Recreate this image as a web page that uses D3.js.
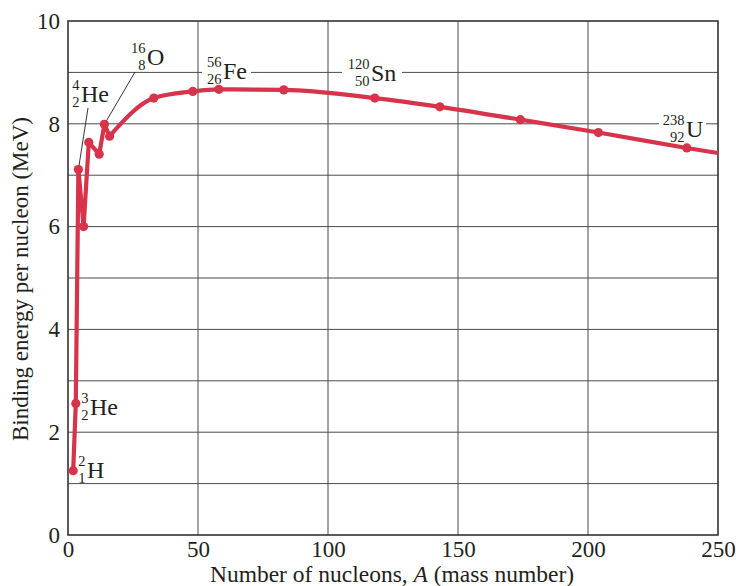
<!DOCTYPE html>
<html>
<head>
<meta charset="utf-8">
<script src="https://cdn.jsdelivr.net/npm/d3@7"></script>
<style>
  html, body { margin: 0; padding: 0; background: #fff; }
  svg { display: block; }
  text { font-family: "Liberation Serif", "Times New Roman", serif; fill: #231f20; }
</style>
</head>
<body>
<svg id="chart" width="736" height="586"></svg>
<script>
// ---- data ----
const massNumbers = [2, 3, 4, 6, 8, 12, 14, 16, 33, 48, 58, 83, 118, 143, 174, 204, 238];
const bindingEnergy = [1.25, 2.56, 7.11, 6.0, 7.64, 7.41, 7.99, 7.76, 8.50, 8.63, 8.67, 8.66, 8.50, 8.33, 8.08, 7.83, 7.53];
const tailMass = [250];
const tailEnergy = [7.43];
const xTicks = [0, 50, 100, 150, 200, 250];
const yTickLabels = [0, 2, 4, 6, 8, 10];
const yGrid = [1, 2, 3, 4, 5, 6, 7, 8, 9];
const isoMass = ["2", "3", "4", "16", "56", "120", "238"];
const isoZ = ["1", "2", "2", "8", "26", "50", "92"];
const isoSymbol = ["H", "He", "He", "O", "Fe", "Sn", "U"];

const svg = d3.select("#chart");
const pLeft = 68, pRight = 718, pTop = 21, pBottom = 535;
const x = d3.scaleLinear().domain([0, 250]).range([pLeft, pRight]);
const y = d3.scaleLinear().domain([0, 10]).range([pBottom, pTop]);

// gridlines
const grid = svg.append("g");
grid.selectAll("line.h").data(yGrid).join("line").attr("class", "h")
  .attr("x1", pLeft).attr("x2", pRight)
  .attr("y1", d => y(d)).attr("y2", d => y(d))
  .attr("stroke", "#4a4a4a").attr("stroke-width", 1);
grid.selectAll("line.v").data(xTicks.slice(1, -1)).join("line").attr("class", "v")
  .attr("y1", pTop).attr("y2", pBottom)
  .attr("x1", d => x(d)).attr("x2", d => x(d))
  .attr("stroke", "#4a4a4a").attr("stroke-width", 1);

// axes via d3 (no tick marks)
const xAxis = d3.axisBottom(x).tickValues(xTicks).tickSize(0).tickPadding(6).tickFormat(d3.format("d"));
const gx = svg.append("g").attr("transform", `translate(0,${pBottom})`).call(xAxis);
gx.select(".domain").remove();
gx.selectAll("text").style("font-size", "23px").style("font-family", "Liberation Serif").attr("fill", "#231f20");

const yAxis = d3.axisLeft(y).tickValues(yTickLabels).tickSize(0).tickPadding(8).tickFormat(d3.format("d"));
const gy = svg.append("g").attr("transform", `translate(${pLeft},0)`).call(yAxis);
gy.select(".domain").remove();
gy.selectAll("text").style("font-size", "23px").style("font-family", "Liberation Serif").attr("fill", "#231f20");

// frame
svg.append("rect").attr("x", pLeft).attr("y", pTop).attr("width", pRight - pLeft).attr("height", pBottom - pTop)
  .attr("fill", "none").attr("stroke", "#333").attr("stroke-width", 1.6);

// axis titles
const xt = svg.append("text").attr("x", 392).attr("y", 582).attr("text-anchor", "middle")
  .style("font-size", "23.5px");
xt.append("tspan").text("Number of nucleons, ");
xt.append("tspan").style("font-style", "italic").text("A");
xt.append("tspan").text(" (mass number)");

svg.append("text").attr("transform", `translate(28,${(pTop + pBottom) / 2 + 1}) rotate(-90)`)
  .attr("text-anchor", "middle").style("font-size", "23px")
  .text("Binding energy per nucleon (MeV)");

// label positions (pixel layout): symbol start x, baseline y, white background
const labelPos = [
  {sx: 87, by: 478, bg: false},
  {sx: 90, by: 415, bg: false},
  {sx: 81, by: 102, bg: false},
  {sx: 147, by: 65, bg: false},
  {sx: 223, by: 79, bg: true, w: [202, 251]},
  {sx: 371, by: 81, bg: true, w: [342, 402]},
  {sx: 686, by: 137, bg: true, w: [659, 706]}
];

// leader lines
const leaders = [
  {from: [88, 108], to: 2},
  {from: [135, 72], to: 6}
];
leaders.forEach(l => {
  svg.append("line").attr("x1", l.from[0]).attr("y1", l.from[1])
    .attr("x2", x(massNumbers[l.to])).attr("y2", y(bindingEnergy[l.to]))
    .attr("stroke", "#231f20").attr("stroke-width", 0.9);
});

const labels = svg.append("g");
isoSymbol.forEach((sym, i) => {
  const p = labelPos[i];
  if (p.bg) {
    labels.append("rect").attr("x", p.w[0]).attr("y", p.by - 26).attr("width", p.w[1] - p.w[0]).attr("height", 34)
      .attr("fill", "#fff");
  }
  labels.append("text").attr("x", p.sx - 1.5).attr("y", p.by - 12).attr("text-anchor", "end")
    .style("font-size", "14.5px").text(isoMass[i]);
  labels.append("text").attr("x", p.sx - 1.5).attr("y", p.by + 4.5).attr("text-anchor", "end")
    .style("font-size", "14.5px").text(isoZ[i]);
  labels.append("text").attr("x", p.sx).attr("y", p.by)
    .style("font-size", "24px").text(sym);
});

// curve
const red = "#d7334a";
const pts = massNumbers.map((a, i) => [a, bindingEnergy[i]]);
const tail = tailMass.map((a, i) => [a, tailEnergy[i]]);
const lineLinear = d3.line().x(d => x(d[0])).y(d => y(d[1]));
const lineSmooth = d3.line().x(d => x(d[0])).y(d => y(d[1])).curve(d3.curveMonotoneX);
svg.append("path").attr("d", lineLinear(pts.slice(0, 8)))
  .attr("fill", "none").attr("stroke", red).attr("stroke-width", 4.2).attr("stroke-linejoin", "round");
svg.append("path").attr("d", lineSmooth(pts.slice(7).concat(tail)))
  .attr("fill", "none").attr("stroke", red).attr("stroke-width", 4.2).attr("stroke-linejoin", "round");

svg.selectAll("circle.pt").data(pts).join("circle").attr("class", "pt")
  .attr("cx", d => x(d[0])).attr("cy", d => y(d[1])).attr("r", 4.6).attr("fill", red);
</script>
</body>
</html>
